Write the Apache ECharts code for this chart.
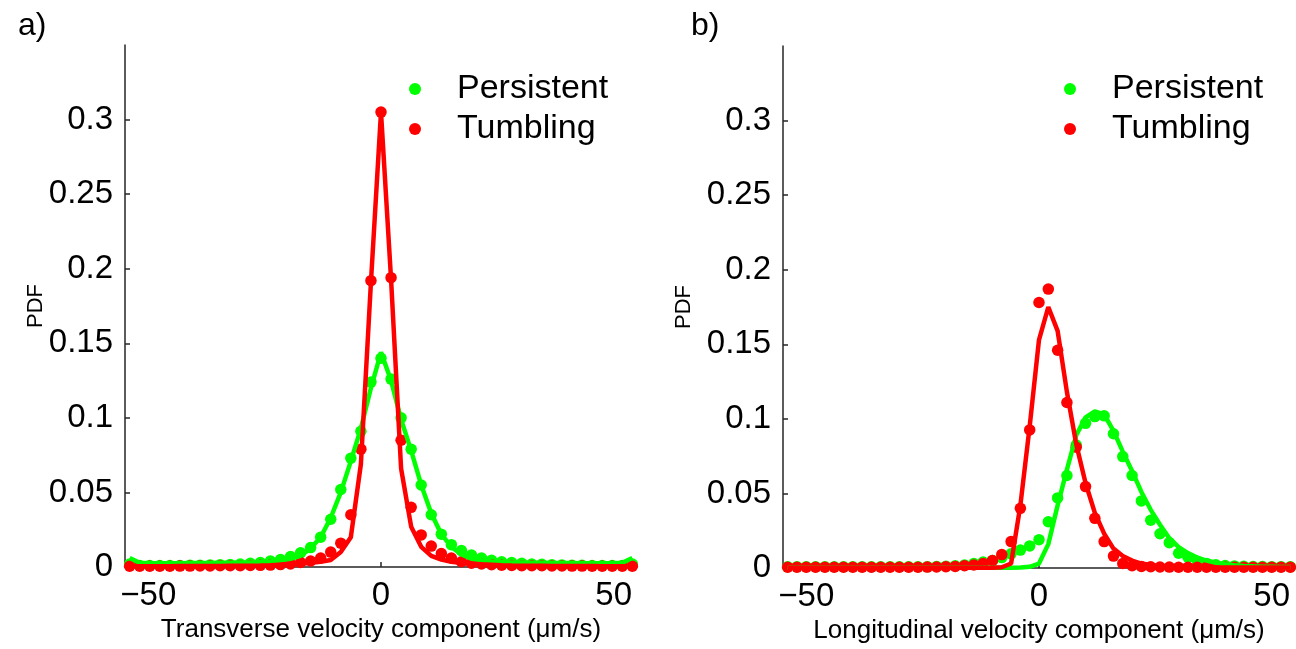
<!DOCTYPE html>
<html>
<head>
    <meta charset="utf-8">
    <script src="https://cdn.jsdelivr.net/npm/echarts@6/dist/echarts.min.js"></script>
    <style>html,body{margin:0;padding:0;background:#fff;}</style>
</head>
<body>
    <div id="main" style="width:1296px;height:649px;"></div>
    <script type="text/javascript">
        // a) transverse component, bin centres and PDF values
        var transX = [-54, -51.84, -49.68, -47.52, -45.36, -43.2, -41.04, -38.88, -36.72, -34.56,
            -32.4, -30.24, -28.08, -25.92, -23.76, -21.6, -19.44, -17.28, -15.12, -12.96,
            -10.8, -8.64, -6.48, -4.32, -2.16, 0, 2.16, 4.32, 6.48, 8.64,
            10.8, 12.96, 15.12, 17.28, 19.44, 21.6, 23.76, 25.92, 28.08, 30.24,
            32.4, 34.56, 36.72, 38.88, 41.04, 43.2, 45.36, 47.52, 49.68, 51.84, 54];
        var transPersistent = [0.002, 0.001, 0.001, 0.001, 0.001, 0.001, 0.0011, 0.0012, 0.0013, 0.0015,
            0.0017, 0.002, 0.0025, 0.003, 0.004, 0.005, 0.007, 0.0095, 0.013, 0.020,
            0.032, 0.052, 0.073, 0.091, 0.124, 0.140, 0.126, 0.100, 0.079, 0.055,
            0.035, 0.022, 0.015, 0.011, 0.008, 0.006, 0.0045, 0.0035, 0.003, 0.0025,
            0.002, 0.0018, 0.0015, 0.0013, 0.0012, 0.0011, 0.001, 0.001, 0.001, 0.001, 0.002];
        var transTumbling = [0.0005, 0.0005, 0.0005, 0.0005, 0.0005, 0.0006, 0.0006, 0.0007, 0.0007, 0.0008,
            0.0009, 0.0009, 0.001, 0.0011, 0.0013, 0.0016, 0.002, 0.003, 0.004, 0.006,
            0.010, 0.016, 0.035, 0.079, 0.192, 0.305, 0.194, 0.085, 0.040, 0.0215,
            0.014, 0.009, 0.006, 0.0035, 0.0025, 0.002, 0.0015, 0.0012, 0.001, 0.0009,
            0.0008, 0.0008, 0.0007, 0.0007, 0.0006, 0.0006, 0.0005, 0.0005, 0.0005, 0.0005, 0.0005];
        var transPersistentFit = [0.006, 0.0028, 0.0025, 0.0025, 0.0025, 0.0025, 0.0026, 0.0026, 0.0027, 0.0028,
            0.0029, 0.003, 0.0031, 0.0033, 0.0037, 0.0045, 0.0055, 0.0075, 0.0125, 0.020,
            0.033, 0.050, 0.071, 0.093, 0.120, 0.144, 0.125, 0.099, 0.078, 0.055,
            0.036, 0.022, 0.0135, 0.0085, 0.0055, 0.0045, 0.0037, 0.0033, 0.0031, 0.003,
            0.0029, 0.0028, 0.0027, 0.0026, 0.0026, 0.0025, 0.0025, 0.0025, 0.0025, 0.0028, 0.006];
        var transTumblingFit = [0.0005, 0.0005, 0.0005, 0.0005, 0.0005, 0.0006, 0.0006, 0.0006, 0.0007, 0.0007,
            0.0008, 0.0008, 0.0009, 0.001, 0.0012, 0.0015, 0.0018, 0.0022, 0.0028, 0.0035,
            0.0047, 0.010, 0.020, 0.069, 0.191, 0.305, 0.193, 0.066, 0.027, 0.0135,
            0.0075, 0.005, 0.0035, 0.0027, 0.0022, 0.0018, 0.0015, 0.0012, 0.001, 0.0009,
            0.0008, 0.0008, 0.0007, 0.0007, 0.0006, 0.0006, 0.0006, 0.0005, 0.0005, 0.0005, 0.0005];

        // b) longitudinal component
        var longX = [-54, -52, -50, -48, -46, -44, -42, -40, -38, -36,
            -34, -32, -30, -28, -26, -24, -22, -20, -18, -16,
            -14, -12, -10, -8, -6, -4, -2, 0, 2, 4,
            6, 8, 10, 12, 14, 16, 18, 20, 22, 24,
            26, 28, 30, 32, 34, 36, 38, 40, 42, 44,
            46, 48, 50, 52, 54];
        var longPersistent = [0.0008, 0.0008, 0.0008, 0.0008, 0.0008, 0.0008, 0.0008, 0.0008, 0.0008, 0.0008,
            0.0008, 0.0008, 0.0008, 0.0008, 0.0008, 0.0009, 0.001, 0.0012, 0.0015, 0.002,
            0.003, 0.004, 0.005, 0.007, 0.0095, 0.012, 0.0148, 0.019, 0.031, 0.047,
            0.062, 0.0825, 0.097, 0.1015, 0.102, 0.090, 0.0747, 0.062, 0.045, 0.032,
            0.023, 0.017, 0.0099, 0.0072, 0.0045, 0.003, 0.0022, 0.0017, 0.0014, 0.0012,
            0.001, 0.001, 0.0009, 0.0009, 0.0008];
        var longTumbling = [0.0005, 0.0005, 0.0005, 0.0005, 0.0005, 0.0005, 0.0005, 0.0005, 0.0005, 0.0005,
            0.0005, 0.0005, 0.0005, 0.0005, 0.0005, 0.0006, 0.0007, 0.0008, 0.001, 0.0015,
            0.002, 0.003, 0.005, 0.009, 0.0177, 0.040, 0.0926, 0.178, 0.187, 0.146,
            0.111, 0.081, 0.0546, 0.0333, 0.0177, 0.008, 0.003, 0.0015, 0.001, 0.0008,
            0.0007, 0.0006, 0.0005, 0.0005, 0.0005, 0.0005, 0.0005, 0.0005, 0.0005, 0.0005,
            0.0005, 0.0005, 0.0005, 0.0005, 0.0005];
        var longPersistentFit = [0.0001, 0.0001, 0.0001, 0.0001, 0.0001, 0.0001, 0.0001, 0.0001, 0.0001, 0.0001,
            0.0001, 0.0001, 0.0001, 0.0001, 0.0001, 0.0001, 0.0001, 0.0001, 0.0001, 0.0001,
            0.0001, 0.0001, 0.0001, 0.0001, 0.0001, 0.0003, 0.0008, 0.003, 0.016, 0.042,
            0.066, 0.089, 0.101, 0.105, 0.103, 0.092, 0.078, 0.065, 0.051, 0.039,
            0.029, 0.020, 0.014, 0.010, 0.007, 0.005, 0.0035, 0.0025, 0.0018, 0.0014,
            0.0011, 0.0009, 0.0008, 0.0007, 0.0006];
        var longTumblingFit = [0.0002, 0.0002, 0.0002, 0.0002, 0.0002, 0.0002, 0.0002, 0.0002, 0.0002, 0.0002,
            0.0002, 0.0002, 0.0002, 0.0002, 0.0002, 0.0002, 0.0002, 0.0002, 0.0002, 0.0002,
            0.0002, 0.0002, 0.0002, 0.0005, 0.003, 0.042, 0.095, 0.153, 0.175, 0.159,
            0.118, 0.083, 0.057, 0.037, 0.023, 0.013, 0.008, 0.005, 0.003, 0.002,
            0.0013, 0.001, 0.0008, 0.0006, 0.0005, 0.0005, 0.0004, 0.0004, 0.0004, 0.0003,
            0.0003, 0.0003, 0.0003, 0.0003, 0.0003];

        var xTicks = [-50, 0, 50];
        var yTicks = [0, 0.05, 0.1, 0.15, 0.2, 0.25, 0.3];
        var seriesNames = ['Persistent', 'Tumbling'];

        var font = '"Liberation Sans", Arial, Helvetica, sans-serif';
        var axisColor = '#262626';
        var green = '#00ff00';
        var red = '#ff0000';

        function pairs(xs, ys) {
            return xs.map(function (x, i) { return [x, ys[i]]; });
        }

        function xAxisFor(grid, title) {
            return {
                type: 'value',
                gridIndex: grid,
                min: -55,
                max: 55,
                name: title,
                nameLocation: 'middle',
                nameGap: 50,
                nameMoveOverlap: false,
                nameTextStyle: {fontFamily: font, fontSize: 26, color: '#000'},
                axisLine: {onZero: false, lineStyle: {color: axisColor, width: 1.5}},
                axisTick: {inside: true, length: 5, customValues: xTicks, lineStyle: {color: axisColor, width: 1.5}},
                axisLabel: {
                    customValues: xTicks,
                    margin: 12,
                    fontFamily: font,
                    fontSize: 33,
                    color: '#000',
                    formatter: function (v) { return String(v).replace('-', '\u2212'); }
                },
                splitLine: {show: false}
            };
        }

        function yAxisFor(grid, gap) {
            return {
                type: 'value',
                gridIndex: grid,
                min: 0,
                max: 0.35,
                name: 'PDF',
                nameLocation: 'middle',
                nameGap: gap,
                nameMoveOverlap: false,
                nameTextStyle: {fontFamily: font, fontSize: 22, color: '#000'},
                axisLine: {show: true, onZero: false, lineStyle: {color: axisColor, width: 1.5}},
                axisTick: {show: true, inside: true, length: 5, customValues: yTicks, lineStyle: {color: axisColor, width: 1.5}},
                axisLabel: {customValues: yTicks, margin: 12, fontFamily: font, fontSize: 33, color: '#000'},
                splitLine: {show: false}
            };
        }

        function dots(name, axis, xs, ys, color) {
            return {
                name: name, type: 'scatter', xAxisIndex: axis, yAxisIndex: axis,
                symbol: 'circle', symbolSize: 11.5,
                itemStyle: {color: color, opacity: 1},
                data: pairs(xs, ys)
            };
        }

        function fit(name, axis, xs, ys, color) {
            return {
                name: name, type: 'line', xAxisIndex: axis, yAxisIndex: axis,
                showSymbol: false, symbol: 'none',
                lineStyle: {color: color, width: 4.5},
                itemStyle: {color: color},
                data: pairs(xs, ys)
            };
        }

        function legendAt(left) {
            return {
                data: seriesNames,
                orient: 'vertical',
                left: left,
                top: 67,
                icon: 'circle',
                itemWidth: 12,
                itemHeight: 12,
                itemGap: 6,
                textStyle: {fontFamily: font, fontSize: 34, color: '#000', padding: [0, 0, 0, 31]}
            };
        }

        var myChart = echarts.init(document.getElementById('main'), null, {renderer: 'canvas'});
        var option = {
            animation: false,
            backgroundColor: '#fff',
            title: [
                {text: 'a)', left: 13, top: 5, textStyle: {fontFamily: font, fontSize: 32, fontWeight: 'normal', color: '#000'}},
                {text: 'b)', left: 686, top: 5, textStyle: {fontFamily: font, fontSize: 32, fontWeight: 'normal', color: '#000'}}
            ],
            legend: [legendAt(404), legendAt(1059)],
            grid: [
                {left: 125, top: 45, width: 512, height: 522, outerBoundsMode: 'none'},
                {left: 783, top: 46, width: 512, height: 522, outerBoundsMode: 'none'}
            ],
            xAxis: [
                xAxisFor(0, 'Transverse velocity component (\u03bcm/s)'),
                xAxisFor(1, 'Longitudinal velocity component (\u03bcm/s)')
            ],
            yAxis: [yAxisFor(0, 78), yAxisFor(1, 88)],
            series: [
                dots('Persistent', 0, transX, transPersistent, green),
                dots('Tumbling', 0, transX, transTumbling, red),
                fit('Persistent fit', 0, transX, transPersistentFit, green),
                fit('Tumbling fit', 0, transX, transTumblingFit, red),
                dots('Persistent', 1, longX, longPersistent, green),
                dots('Tumbling', 1, longX, longTumbling, red),
                fit('Persistent fit', 1, longX, longPersistentFit, green),
                fit('Tumbling fit', 1, longX, longTumblingFit, red)
            ]
        };
        myChart.setOption(option);
    </script>
</body>
</html>
